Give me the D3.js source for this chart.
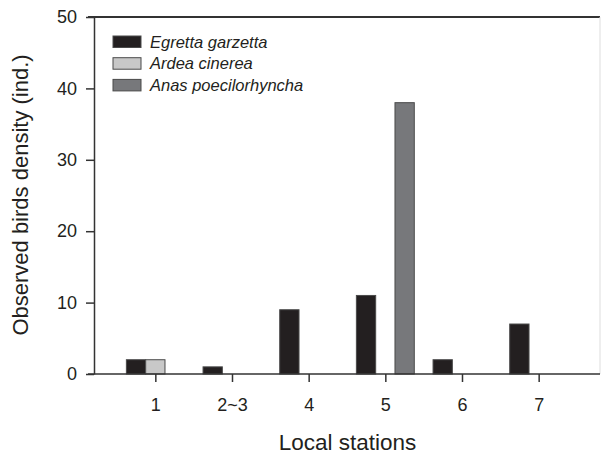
<!DOCTYPE html>
<html lang="en">
<head>
<meta charset="utf-8">
<title>Observed birds density</title>
<script src="https://d3js.org/d3.v7.min.js"></script>
<style>
  body { margin: 0; background: #fff; }
  text { font-family: Arial, "Liberation Sans", sans-serif; fill: #231f20; }
</style>
</head>
<body>
<script>
const stations = ["1", "2~3", "4", "5", "6", "7"];
const seriesNames = ["Egretta garzetta", "Ardea cinerea", "Anas poecilorhyncha"];
const egretta = [2, 1, 9, 11, 2, 7];
const ardea = [2, 0, 0, 0, 0, 0];
const anas = [0, 0, 0, 38, 0, 0];
const yTicks = [0, 10, 20, 30, 40, 50];
const colors = ["#231f20", "#c8c8c8", "#77787b"];

const w = 601, h = 458;
const mLeft = 94, mRight = 600, mTop = 17, mBottom = 374;

const svg = d3.select("body").append("svg")
  .attr("width", w).attr("height", h);

const x = d3.scaleLinear().domain([-0.8, 5.8]).range([mLeft, mRight]);
const y = d3.scaleLinear().domain([0, 50]).range([mBottom, mTop]);
const barW = 19.3;

const allSeries = [egretta, ardea, anas];

// bars, three slots per station
allSeries.forEach((vals, s) => {
  svg.append("g").selectAll("rect")
    .data(vals.map((v, i) => ({v, i})).filter(d => d.v > 0))
    .enter().append("rect")
    .attr("x", d => x(d.i) + (s - 1.5) * barW)
    .attr("y", d => y(d.v))
    .attr("width", barW)
    .attr("height", d => y(0) - y(d.v))
    .attr("fill", colors[s])
    .attr("stroke", "#4a4a4a")
    .attr("stroke-width", 1);
});

// frame
svg.append("line")
  .attr("x1", mLeft - 6).attr("x2", mRight)
  .attr("y1", mTop).attr("y2", mTop)
  .attr("stroke", "#333").attr("stroke-width", 2);
svg.append("line")
  .attr("x1", mRight).attr("x2", mRight)
  .attr("y1", mTop).attr("y2", mBottom)
  .attr("stroke", "#ddd").attr("stroke-width", 1);

// axes
const yAxis = d3.axisLeft(y).tickValues(yTicks).tickSize(8).tickPadding(9).tickSizeOuter(0);
const gy = svg.append("g").attr("transform", `translate(${mLeft},0)`).call(yAxis);
const xAxis = d3.axisBottom(x).tickValues(d3.range(stations.length))
  .tickFormat(i => stations[i]).tickSize(8).tickPadding(16).tickSizeOuter(0);
const gx = svg.append("g").attr("transform", `translate(0,${mBottom})`).call(xAxis);

[gx, gy].forEach(g => {
  g.select(".domain").attr("stroke", "#333").attr("stroke-width", 1.5);
  g.selectAll(".tick line").attr("stroke", "#333").attr("stroke-width", 1.5);
  g.selectAll(".tick text").attr("font-size", 18).attr("fill", "#231f20")
    .attr("font-family", "Arial, 'Liberation Sans', sans-serif");
});
gx.select(".domain").attr("d", `M${mLeft - 6},0H${mRight}`);

// axis titles
svg.append("text")
  .attr("x", 347.5).attr("y", 450)
  .attr("text-anchor", "middle").attr("font-size", 22.5)
  .text("Local stations");
svg.append("text")
  .attr("transform", "translate(28,195) rotate(-90)")
  .attr("text-anchor", "middle").attr("font-size", 22)
  .text("Observed birds density (ind.)");

// legend
const legend = svg.selectAll(".legend")
  .data(seriesNames).enter().append("g")
  .attr("class", "legend")
  .attr("transform", (d, i) => `translate(113,${36 + i * 21.7})`);
legend.append("rect")
  .attr("width", 28).attr("height", 11.5)
  .attr("fill", (d, i) => colors[i])
  .attr("stroke", "#4a4a4a").attr("stroke-width", 1);
legend.append("text")
  .attr("x", 37).attr("y", 11.5)
  .attr("font-size", 16.5).attr("font-style", "italic")
  .text(d => d);
</script>
</body>
</html>
